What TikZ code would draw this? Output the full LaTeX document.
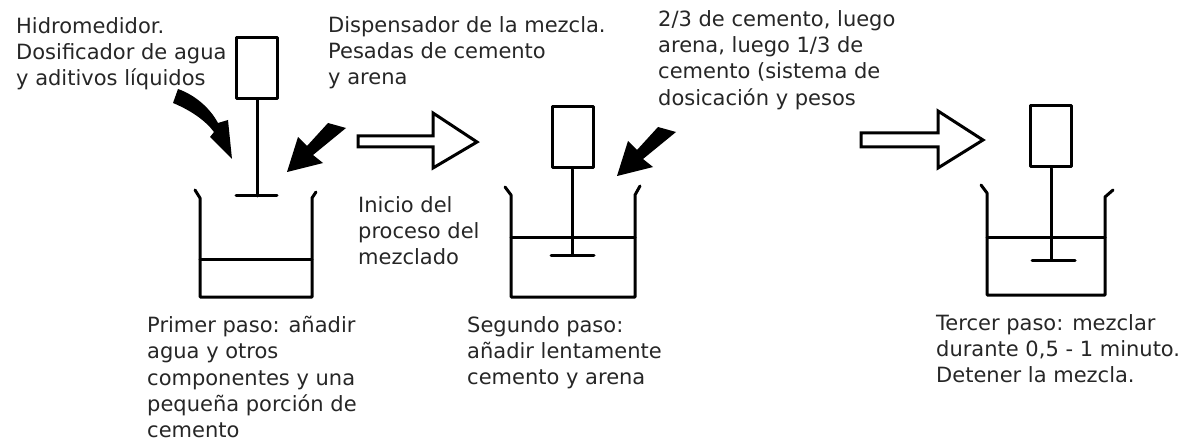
\documentclass[tikz,border=0pt]{standalone}
\usepackage{fontspec}
\setmainfont{DejaVu Sans}
\tikzset{
    label/.style={anchor=north west, inner sep=0pt, align=left, text=black!85, font=\fontsize{21}{26.3}\selectfont},
    part/.style={line width=3pt, line join=round, line cap=round},
    motor/.style={draw, part, minimum width=41pt, minimum height=61pt, inner sep=0pt, fill=white},
    hollow/.style={part, fill=white, line join=miter}
}
\begin{document}
\begin{tikzpicture}[x=1pt, y=-1pt]
    \useasboundingbox (0,0) rectangle (1187,441);

    % First step
    \node[motor] (motorA) at (257,68) {};
    \coordinate (paddleA) at (258,196);
    \draw[part] (motorA) -- (motorA |- paddleA);
    \draw[part] (236,196) -- (277,196);
    \draw[part] (195,190) -- (200,198) -- (200,297) -- (312,297) -- (312,198) -- (316,192);
    \draw[part] (200,259) -- (312,259);

    % Feed arrows of the first step
    \fill (178,89) .. controls (195,95) and (210,108) .. (218,123) -- (228,120) -- (232,159) -- (210,137) -- (214,132) .. controls (205,120) and (190,110) .. (173,103) -- cycle;
    \fill (287,172) -- (298,137) -- (307,146) -- (328,123) -- (346,128) -- (313,155) -- (323,163) -- cycle;

    % Arrow to second step
    \draw[hollow] (358,136) -- (433,136) -- (433,113) -- (477,142) -- (433,168) -- (433,147) -- (358,147) -- cycle;

    % Second step
    \node[motor] (motorB) at (572.5,137.5) {};
    \coordinate (paddleB) at (572,255);
    \draw[part] (motorB) -- (motorB |- paddleB);
    \draw[part] (551,255) -- (594,255);
    \draw[part] (505,187) -- (511,195) -- (511,297) -- (635,297) -- (635,195) -- (640,186);
    \draw[part] (511,237) -- (635,237);
    \fill (617,176) -- (628,141) -- (637,150) -- (658,127) -- (676,132) -- (643,159) -- (653,167) -- cycle;

    % Arrow to third step
    \draw[hollow] (861,133) -- (938,133) -- (938,111) -- (983,140) -- (938,168) -- (938,147) -- (861,147) -- cycle;

    % Third step
    \node[motor] (motorC) at (1051,136.5) {};
    \coordinate (paddleC) at (1052,260);
    \draw[part] (motorC) -- (motorC |- paddleC);
    \draw[part] (1032,260) -- (1075,260);
    \draw[part] (981,185) -- (987,193) -- (987,295) -- (1105,295) -- (1105,197) -- (1113,190);
    \draw[part] (987,237) -- (1105,237);

    % Labels
    \node[label] (water) at (16,17) {Hidromedidor.\\Dosificador de agua\\y aditivos líquidos};
    \node[label] (mix) at (328,16) {Dispensador de la mezcla.\\Pesadas de cemento\\y arena};
    \node[label] (order) at (658,10) {2/3 de cemento, luego\\arena, luego 1/3 de\\cemento (sistema de\\dosicación y pesos};
    \node[label] (start) at (358,196) {Inicio del\\proceso del\\mezclado};
    \node[label] (stepA) at (147,316) {Primer paso: añadir\\agua y otros\\componentes y una\\pequeña porción de\\cemento};
    \node[label] (stepB) at (467,316) {Segundo paso:\\añadir lentamente\\cemento y arena};
    \node[label] (stepC) at (936,314) {Tercer paso: mezclar\\durante 0,5 - 1 minuto.\\Detener la mezcla.};
\end{tikzpicture}
\end{document}
